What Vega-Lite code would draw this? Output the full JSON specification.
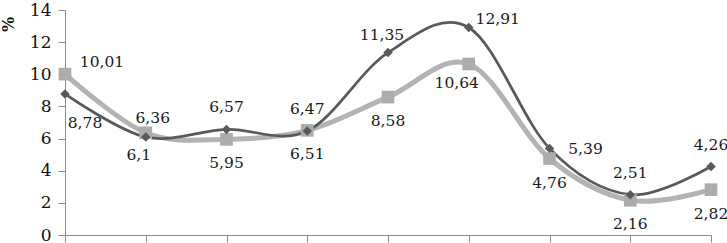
{
  "$schema": "https://vega.github.io/schema/vega-lite/v6.json",
  "width": 646,
  "height": 225,
  "autosize": {"type": "none"},
  "padding": {"left": 65, "top": 10, "right": 16, "bottom": 8},
  "background": "white",
  "config": {"view": {"stroke": null}, "text": {"font": "DejaVu Serif", "fontSize": 15.5, "color": "#1a1a1a", "align": "center", "baseline": "middle"}},
  "data": {"values": [
    {"period": 1, "series": "A", "value": 8.78, "label": "8,78"},
    {"period": 2, "series": "A", "value": 6.1, "label": "6,1"},
    {"period": 3, "series": "A", "value": 6.57, "label": "6,57"},
    {"period": 4, "series": "A", "value": 6.47, "label": "6,47"},
    {"period": 5, "series": "A", "value": 11.35, "label": "11,35"},
    {"period": 6, "series": "A", "value": 12.91, "label": "12,91"},
    {"period": 7, "series": "A", "value": 5.39, "label": "5,39"},
    {"period": 8, "series": "A", "value": 2.51, "label": "2,51"},
    {"period": 9, "series": "A", "value": 4.26, "label": "4,26"},
    {"period": 1, "series": "B", "value": 10.01, "label": "10,01"},
    {"period": 2, "series": "B", "value": 6.36, "label": "6,36"},
    {"period": 3, "series": "B", "value": 5.95, "label": "5,95"},
    {"period": 4, "series": "B", "value": 6.51, "label": "6,51"},
    {"period": 5, "series": "B", "value": 8.58, "label": "8,58"},
    {"period": 6, "series": "B", "value": 10.64, "label": "10,64"},
    {"period": 7, "series": "B", "value": 4.76, "label": "4,76"},
    {"period": 8, "series": "B", "value": 2.16, "label": "2,16"},
    {"period": 9, "series": "B", "value": 2.82, "label": "2,82"}
  ]},
  "encoding": {
    "x": {"field": "period", "type": "ordinal", "scale": {"type": "point", "padding": 0},
      "axis": {"labels": false, "title": null, "ticks": true, "tickSize": 7, "tickColor": "#8c8c8c", "domainColor": "#8c8c8c", "grid": false}},
    "y": {"field": "value", "type": "quantitative", "scale": {"domain": [0, 14], "nice": false},
      "axis": {"values": [0, 2, 4, 6, 8, 10, 12, 14], "grid": false, "tickSize": 7, "tickColor": "#8c8c8c", "domainColor": "#8c8c8c",
        "labelFont": "DejaVu Serif", "labelFontSize": 17, "labelColor": "#111", "labelPadding": 7,
        "title": "%", "titleFont": "DejaVu Serif", "titleFontSize": 16, "titleFontWeight": "bold", "titleColor": "#111",
        "titleX": -57, "titleY": 14, "titleAlign": "center", "titleBaseline": "middle", "titleAngle": -90}}
  },
  "layer": [
    {"transform": [{"filter": "datum.series == 'B'"}], "mark": {"type": "line", "interpolate": "cardinal", "strokeWidth": 5, "color": "#b3b3b3"}, "encoding": {}},
    {"transform": [{"filter": "datum.series == 'A'"}], "mark": {"type": "line", "interpolate": "cardinal", "strokeWidth": 2.75, "color": "#595959"}, "encoding": {}},
    {"transform": [{"filter": "datum.series == 'B'"}], "mark": {"type": "point", "shape": "square", "filled": true, "size": 160, "color": "#acacac", "opacity": 1}},
    {"transform": [{"filter": "datum.series == 'A'"}], "mark": {"type": "point", "shape": "diamond", "filled": true, "size": 90, "color": "#595959", "opacity": 1}},
    {"transform": [{"filter": "datum.series == 'A' && indexof([3,4,8,9], datum.period) >= 0"}], "mark": {"type": "text", "dy": -22}, "encoding": {"text": {"field": "label"}}},
    {"transform": [{"filter": "datum.series == 'A' && datum.period == 1"}], "mark": {"type": "text", "dx": 20, "dy": 29}, "encoding": {"text": {"field": "label"}}},
    {"transform": [{"filter": "datum.series == 'A' && datum.period == 2"}], "mark": {"type": "text", "dx": -7, "dy": 18}, "encoding": {"text": {"field": "label"}}},
    {"transform": [{"filter": "datum.series == 'A' && datum.period == 5"}], "mark": {"type": "text", "dx": -6, "dy": -18}, "encoding": {"text": {"field": "label"}}},
    {"transform": [{"filter": "datum.series == 'A' && datum.period == 6"}], "mark": {"type": "text", "dx": 29, "dy": -9}, "encoding": {"text": {"field": "label"}}},
    {"transform": [{"filter": "datum.series == 'A' && datum.period == 7"}], "mark": {"type": "text", "dx": 36, "dy": 1}, "encoding": {"text": {"field": "label"}}},
    {"transform": [{"filter": "datum.series == 'B' && indexof([3,4,5,7,8,9], datum.period) >= 0"}], "mark": {"type": "text", "dy": 24}, "encoding": {"text": {"field": "label"}}},
    {"transform": [{"filter": "datum.series == 'B' && datum.period == 1"}], "mark": {"type": "text", "dx": 37, "dy": -12}, "encoding": {"text": {"field": "label"}}},
    {"transform": [{"filter": "datum.series == 'B' && datum.period == 2"}], "mark": {"type": "text", "dx": 7, "dy": -15}, "encoding": {"text": {"field": "label"}}},
    {"transform": [{"filter": "datum.series == 'B' && datum.period == 6"}], "mark": {"type": "text", "dx": -12, "dy": 19}, "encoding": {"text": {"field": "label"}}}
  ]
}
